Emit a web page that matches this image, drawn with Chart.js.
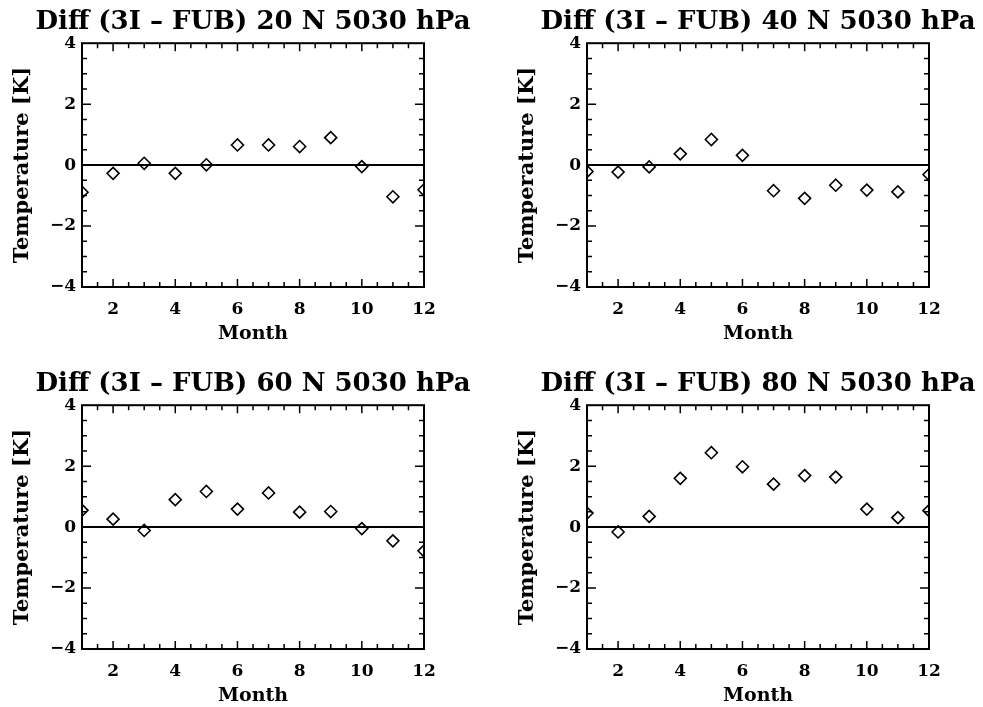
<!DOCTYPE html>
<html>
<head>
<meta charset="utf-8">
<script src="https://cdn.jsdelivr.net/npm/chart.js@4.4.0/dist/chart.umd.min.js"></script>
<style>
  html, body { margin: 0; padding: 0; background: #fff; overflow: hidden; width: 983px; height: 707px; }
  .panel { position: absolute; width: 506px; height: 350px; }
</style>
</head>
<body>
<div class="panel" style="left:0;top:0"><canvas id="c20" width="506" height="350"></canvas></div>
<div class="panel" style="left:505px;top:0"><canvas id="c40" width="506" height="350"></canvas></div>
<div class="panel" style="left:0;top:362px"><canvas id="c60" width="506" height="350"></canvas></div>
<div class="panel" style="left:505px;top:362px"><canvas id="c80" width="506" height="350"></canvas></div>
<script>
// months and tick labels
const months = [1, 2, 3, 4, 5, 6, 7, 8, 9, 10, 11, 12];
const monthTicks = [2, 4, 6, 8, 10, 12];
const tempTicks = [-4, -2, 0, 2, 4];

// temperature difference 3I - FUB [K], 50-30 hPa
const diff20N = [-0.89, -0.27, 0.06, -0.27, 0.01, 0.66, 0.66, 0.61, 0.90, -0.05, -1.04, -0.81];
const diff40N = [-0.21, -0.23, -0.06, 0.37, 0.84, 0.32, -0.84, -1.09, -0.66, -0.82, -0.88, -0.31];
const diff60N = [0.55, 0.26, -0.11, 0.90, 1.17, 0.59, 1.12, 0.49, 0.51, -0.05, -0.45, -0.78];
const diff80N = [0.46, -0.16, 0.35, 1.60, 2.44, 1.98, 1.41, 1.69, 1.64, 0.59, 0.31, 0.54];

const titles = [
    'Diff (3I \u2013 FUB) 20 N 5030 hPa',
    'Diff (3I \u2013 FUB) 40 N 5030 hPa',
    'Diff (3I \u2013 FUB) 60 N 5030 hPa',
    'Diff (3I \u2013 FUB) 80 N 5030 hPa'
];

const serif = 'DejaVu Serif';

// box + inward ticks on all four sides
const frameTicks = {
    id: 'frameTicks',
    afterDatasetsDraw(chart) {
        const { ctx, chartArea: a, scales: { x, y } } = chart;
        ctx.save();
        ctx.strokeStyle = '#000';
        ctx.lineWidth = 1.5;
        ctx.beginPath();
        for (let m = x.min + 0.5; m < x.max; m += 0.5) {
            const px = x.getPixelForValue(m);
            const len = (m % 2 === 0) ? 8 : 5;
            ctx.moveTo(px, a.bottom); ctx.lineTo(px, a.bottom - len);
            ctx.moveTo(px, a.top); ctx.lineTo(px, a.top + len);
        }
        for (let t = y.min + 0.5; t < y.max; t += 0.5) {
            const py = y.getPixelForValue(t);
            const len = (t % 2 === 0) ? 9 : 5;
            ctx.moveTo(a.left, py); ctx.lineTo(a.left + len, py);
            ctx.moveTo(a.right, py); ctx.lineTo(a.right - len, py);
        }
        ctx.stroke();
        ctx.lineWidth = 2;
        ctx.strokeRect(a.left, a.top, a.width, a.height);
        ctx.restore();
    }
};

function makePanel(canvasId, title, values) {
    const ctx = document.getElementById(canvasId).getContext('2d');
    return new Chart(ctx, {
        type: 'scatter',
        data: {
            datasets: [
                {
                    type: 'line',
                    data: [{ x: months[0], y: 0 }, { x: months[months.length - 1], y: 0 }],
                    borderColor: '#000',
                    borderWidth: 2,
                    pointRadius: 0
                },
                {
                    data: months.map((m, i) => ({ x: m, y: values[i] })),
                    pointStyle: 'rectRot',
                    pointRadius: 6,
                    borderColor: '#000',
                    borderWidth: 1.6,
                    backgroundColor: 'rgba(255,255,255,0)',
                    clip: 0
                }
            ]
        },
        options: {
            responsive: false,
            animation: false,
            events: [],
            layout: { padding: 0 },
            plugins: {
                legend: { display: false },
                tooltip: { enabled: false },
                title: {
                    display: true,
                    text: title,
                    color: '#000',
                    font: { family: serif, weight: 'bold', size: 26 },
                    padding: { top: 7, bottom: 5 }
                }
            },
            scales: {
                x: {
                    type: 'linear',
                    min: 1,
                    max: 12,
                    afterBuildTicks: s => { s.ticks = monthTicks.map(v => ({ value: v })); },
                    afterFit: s => { s.height = 63; },
                    grid: { display: false, drawTicks: false },
                    border: { display: false },
                    ticks: {
                        padding: 12,
                        color: '#000',
                        autoSkip: false,
                        maxRotation: 0,
                        font: { family: serif, weight: 'bold', size: 17 }
                    },
                    title: {
                        display: true,
                        text: 'Month',
                        color: '#000',
                        font: { family: serif, weight: 'bold', size: 19 },
                        padding: { top: 0, bottom: 5 }
                    }
                },
                y: {
                    min: -4,
                    max: 4,
                    afterBuildTicks: s => { s.ticks = tempTicks.map(v => ({ value: v })); },
                    afterFit: s => { s.width = 82; },
                    grid: { display: false, drawTicks: false },
                    border: { display: false },
                    ticks: {
                        padding: 6,
                        color: '#000',
                        font: { family: serif, weight: 'bold', size: 17 },
                        callback: v => v < 0 ? '\u2212' + Math.abs(v) : String(v)
                    },
                    title: {
                        display: true,
                        text: 'Temperature [K]',
                        color: '#000',
                        font: { family: serif, weight: 'bold', size: 21 },
                        padding: { top: 10, bottom: 0 }
                    }
                },
                yRight: {
                    position: 'right',
                    min: -4,
                    max: 4,
                    afterFit: s => { s.width = 82; },
                    grid: { display: false, drawTicks: false },
                    border: { display: false },
                    ticks: { display: false }
                }
            }
        },
        plugins: [frameTicks]
    });
}

makePanel('c20', titles[0], diff20N);
makePanel('c40', titles[1], diff40N);
makePanel('c60', titles[2], diff60N);
makePanel('c80', titles[3], diff80N);
</script>
</body>
</html>
